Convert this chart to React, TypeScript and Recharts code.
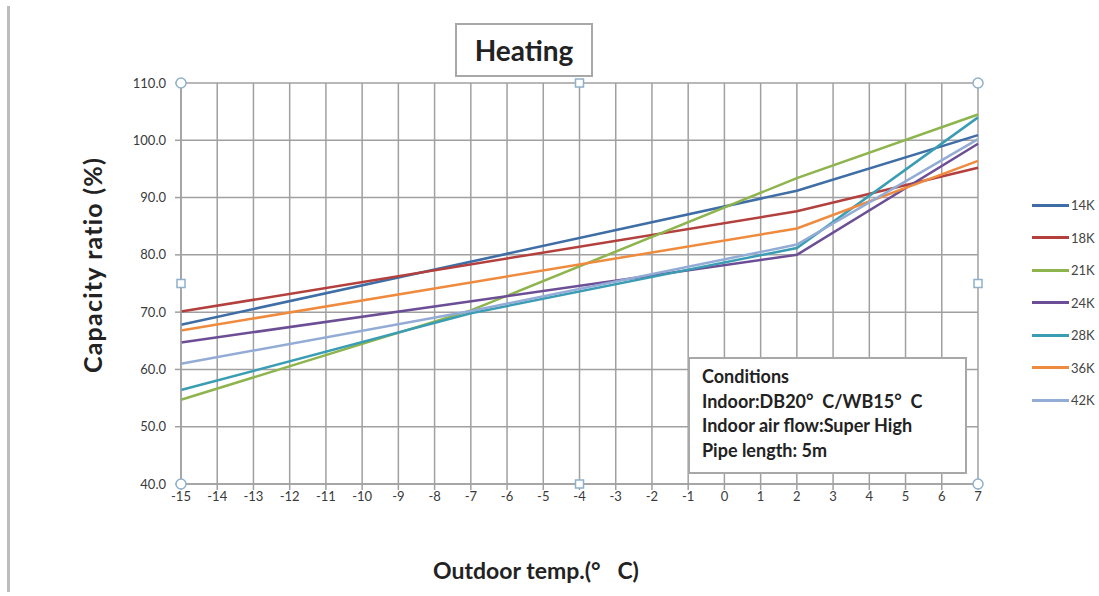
import { LineChart, Line, XAxis, YAxis, CartesianGrid, ReferenceDot } from 'recharts';

// outdoor temperatures of the plotted points (null = no point at that temperature)
const temps = [-15, -7, 2, 7];

const series = [
  { name: '14K', color: '#3f6ea6', values: [67.8, null, 91.2, 100.9] },
  { name: '18K', color: '#b3403d', values: [70.1, null, 87.6, 95.2] },
  { name: '21K', color: '#8db44d', values: [54.7, 70.3, 93.4, 104.5] },
  { name: '24K', color: '#6b4e95', values: [64.7, null, 80.0, 99.4] },
  { name: '28K', color: '#3a9db3', values: [56.4, 69.8, 81.2, 104.0] },
  { name: '36K', color: '#ef8b3e', values: [66.8, null, 84.6, 96.4] },
  { name: '42K', color: '#93acd6', values: [61.0, 70.2, 81.8, 100.2] },
];

const xTicks = [-15, -14, -13, -12, -11, -10, -9, -8, -7, -6, -5, -4, -3, -2, -1, 0, 1, 2, 3, 4, 5, 6, 7];
const yTicks = [40, 50, 60, 70, 80, 90, 100, 110];

const conditions = [
  'Conditions',
  'Indoor:DB20\u00b0  C/WB15\u00b0  C',
  'Indoor air flow:Super High',
  'Pipe length: 5m',
];

// selection handles drawn by the original spreadsheet
const circleHandles = [
  { x: -15, y: 110 },
  { x: 7, y: 110 },
  { x: -15, y: 40 },
  { x: 7, y: 40 },
];
const squareHandles = [
  { x: -4, y: 110 },
  { x: -4, y: 40 },
  { x: -15, y: 75 },
  { x: 7, y: 75 },
];

const data = temps.map((t, i) => {
  const row: Record<string, number | null> = { t };
  series.forEach(s => {
    row[s.name] = s.values[i];
  });
  return row;
});

const font = 'Lato, "Open Sans", sans-serif';

const LegendBox = () => (
  <div style={{ position: 'absolute', left: 1032, top: 189, fontFamily: font, fontSize: 13, color: '#444' }}>
    {series.map(s => (
      <div key={s.name} style={{ display: 'flex', alignItems: 'center', height: 32.5 }}>
        <div style={{ width: 37, height: 3, background: s.color, marginRight: 2 }} />
        <span>{s.name}</span>
      </div>
    ))}
  </div>
);

export default function App() {
  return (
    <div style={{ position: 'absolute', left: 0, top: 0, width: 1099, height: 596, background: '#fff', overflow: 'hidden' }}>
      <div style={{ position: 'absolute', left: 7, top: 6, width: 3, height: 586, background: '#bdbdbd' }} />

      <LineChart width={1099} height={596} data={data} margin={{ top: 83, right: 121, bottom: 82, left: 121 }}>
        <CartesianGrid stroke="#a0a0a0" strokeWidth={1.5} />
        <XAxis
          dataKey="t"
          type="number"
          domain={[-15, 7]}
          ticks={xTicks}
          interval={0}
          height={30}
          tickSize={6}
          axisLine={{ stroke: '#a0a0a0', strokeWidth: 1.5 }}
          tickLine={{ stroke: '#a0a0a0', strokeWidth: 1.5 }}
          tick={{ fill: '#3a3a3a', fontSize: 13, fontFamily: font }}
        />
        <YAxis
          type="number"
          domain={[40, 110]}
          ticks={yTicks}
          width={60}
          tickSize={6}
          tickFormatter={(v: number) => v.toFixed(1)}
          axisLine={{ stroke: '#a0a0a0', strokeWidth: 1.5 }}
          tickLine={{ stroke: '#a0a0a0', strokeWidth: 1.5 }}
          tick={{ fill: '#3a3a3a', fontSize: 13, fontFamily: font, dx: -7 }}
        />
        {series.map(s => (
          <Line
            key={s.name}
            type="linear"
            dataKey={s.name}
            stroke={s.color}
            strokeWidth={2.5}
            dot={false}
            connectNulls
            isAnimationActive={false}
          />
        ))}
        {circleHandles.map((h, i) => (
          <ReferenceDot key={'c' + i} x={h.x} y={h.y} r={5} fill="#fff" stroke="#8fb1c9" strokeWidth={1.5} />
        ))}
        {squareHandles.map((h, i) => (
          <ReferenceDot
            key={'s' + i}
            x={h.x}
            y={h.y}
            r={4}
            shape={(p: any) => (
              <rect x={p.cx - 4} y={p.cy - 4} width={8} height={8} fill="#fff" stroke="#8fb1c9" strokeWidth={1.5} />
            )}
          />
        ))}
      </LineChart>

      <LegendBox />

      <div
        style={{
          position: 'absolute', left: 455, top: 23, width: 134, height: 50,
          border: '2px solid #a8a8a8', background: '#fff',
          display: 'flex', alignItems: 'center', justifyContent: 'center',
          fontFamily: font, fontWeight: 700, fontSize: 28, color: '#222',
        }}
      >
        Heating
      </div>

      <div style={{ position: 'absolute', left: 92, top: 265, width: 0, height: 0 }}>
        <div
          style={{
            position: 'absolute', transform: 'translate(-50%, -50%) rotate(-90deg)',
            whiteSpace: 'nowrap', fontFamily: font, fontWeight: 700, fontSize: 25,
            letterSpacing: 1.2, color: '#222',
          }}
        >
          Capacity ratio (%)
        </div>
      </div>

      <div
        style={{
          position: 'absolute', left: 400, top: 556, width: 272, textAlign: 'center',
          whiteSpace: 'pre', fontFamily: font, fontWeight: 700, fontSize: 23, color: '#222',
        }}
      >
        {'Outdoor temp.(\u00b0   C)'}
      </div>

      <div
        style={{
          position: 'absolute', left: 688, top: 357, width: 275, height: 113,
          border: '2px solid #a8a8a8', background: '#fff', boxSizing: 'content-box',
          fontFamily: font, fontWeight: 700, fontSize: 18, color: '#222',
        }}
      >
        <div style={{ paddingLeft: 12, paddingTop: 5 }}>
          {conditions.map(c => (
            <div key={c} style={{ height: 24.5, lineHeight: '24.5px', whiteSpace: 'pre' }}>{c}</div>
          ))}
        </div>
      </div>
    </div>
  );
}
